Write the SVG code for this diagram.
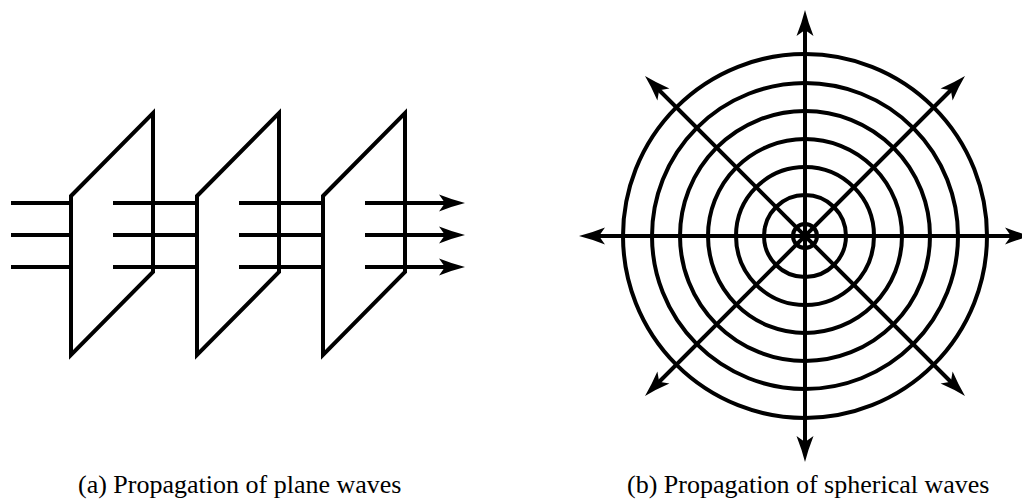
<svg xmlns="http://www.w3.org/2000/svg" width="1022" height="499" viewBox="0 0 1022 499">
  <style>
    .ln { stroke: #000; stroke-width: 4; fill: none; stroke-linecap: butt; }
    .panel { stroke: #000; stroke-width: 4; fill: none; stroke-linejoin: miter; }
    .ring { stroke: #000; stroke-width: 4; fill: none; }
    .cap { font-family: "Liberation Serif", "Times New Roman", serif; font-size: 26px; fill: #000; }
  </style>
  <defs>
    <marker id="arr" markerUnits="userSpaceOnUse" viewBox="-20 -12 40 24" markerWidth="40" markerHeight="24" refX="0" refY="0" orient="auto-start-reverse" overflow="visible">
      <path d="M12,0 Q0,-3 -14,-8.5 L-8,0 L-14,8.5 Q0,3 12,0 Z" fill="#000"/>
    </marker>
  </defs>
  <rect width="1022" height="499" fill="#fff"/>

  <g id="plane-waves">
    <g id="panel-1"><polygon class="panel" points="71,196 153,113 153,272 71,355"/></g>
    <g id="panel-2"><polygon class="panel" points="197,196 279,113 279,272 197,355"/></g>
    <g id="panel-3"><polygon class="panel" points="323,196 405,113 405,272 323,355"/></g>
    <g id="plane-rays">
      <line class="ln" x1="11" y1="203" x2="71" y2="203"/>
      <line class="ln" x1="11" y1="235" x2="71" y2="235"/>
      <line class="ln" x1="11" y1="267" x2="71" y2="267"/>
      <line class="ln" x1="113" y1="203" x2="197" y2="203"/>
      <line class="ln" x1="113" y1="235" x2="197" y2="235"/>
      <line class="ln" x1="113" y1="267" x2="197" y2="267"/>
      <line class="ln" x1="239" y1="203" x2="323" y2="203"/>
      <line class="ln" x1="239" y1="235" x2="323" y2="235"/>
      <line class="ln" x1="239" y1="267" x2="323" y2="267"/>
      <line class="ln" x1="365" y1="203" x2="453" y2="203" marker-end="url(#arr)"/>
      <line class="ln" x1="365" y1="235" x2="453" y2="235" marker-end="url(#arr)"/>
      <line class="ln" x1="365" y1="267" x2="453" y2="267" marker-end="url(#arr)"/>
    </g>
  </g>

  <g id="spherical-waves">
    <g id="wavefronts">
      <circle class="ring" cx="805" cy="236" r="12"/>
      <circle class="ring" cx="805" cy="236" r="41"/>
      <circle class="ring" cx="805" cy="236" r="69"/>
      <circle class="ring" cx="805" cy="236" r="97"/>
      <circle class="ring" cx="805" cy="236" r="125"/>
      <circle class="ring" cx="805" cy="236" r="153"/>
      <circle class="ring" cx="805" cy="236" r="182"/>
    </g>
    <g id="spherical-rays">
      <line class="ln" x1="591" y1="236" x2="1019" y2="236" marker-start="url(#arr)" marker-end="url(#arr)"/>
      <line class="ln" x1="805" y1="22" x2="805" y2="450" marker-start="url(#arr)" marker-end="url(#arr)"/>
      <line class="ln" x1="653.5" y1="84.5" x2="956.5" y2="387.5" marker-start="url(#arr)" marker-end="url(#arr)"/>
      <line class="ln" x1="956.5" y1="84.5" x2="653.5" y2="387.5" marker-start="url(#arr)" marker-end="url(#arr)"/>
    </g>
  </g>

  <g id="captions">
    <text class="cap" x="78" y="493">(a) Propagation of plane waves</text>
    <text class="cap" x="627" y="493">(b) Propagation of spherical waves</text>
  </g>
</svg>
